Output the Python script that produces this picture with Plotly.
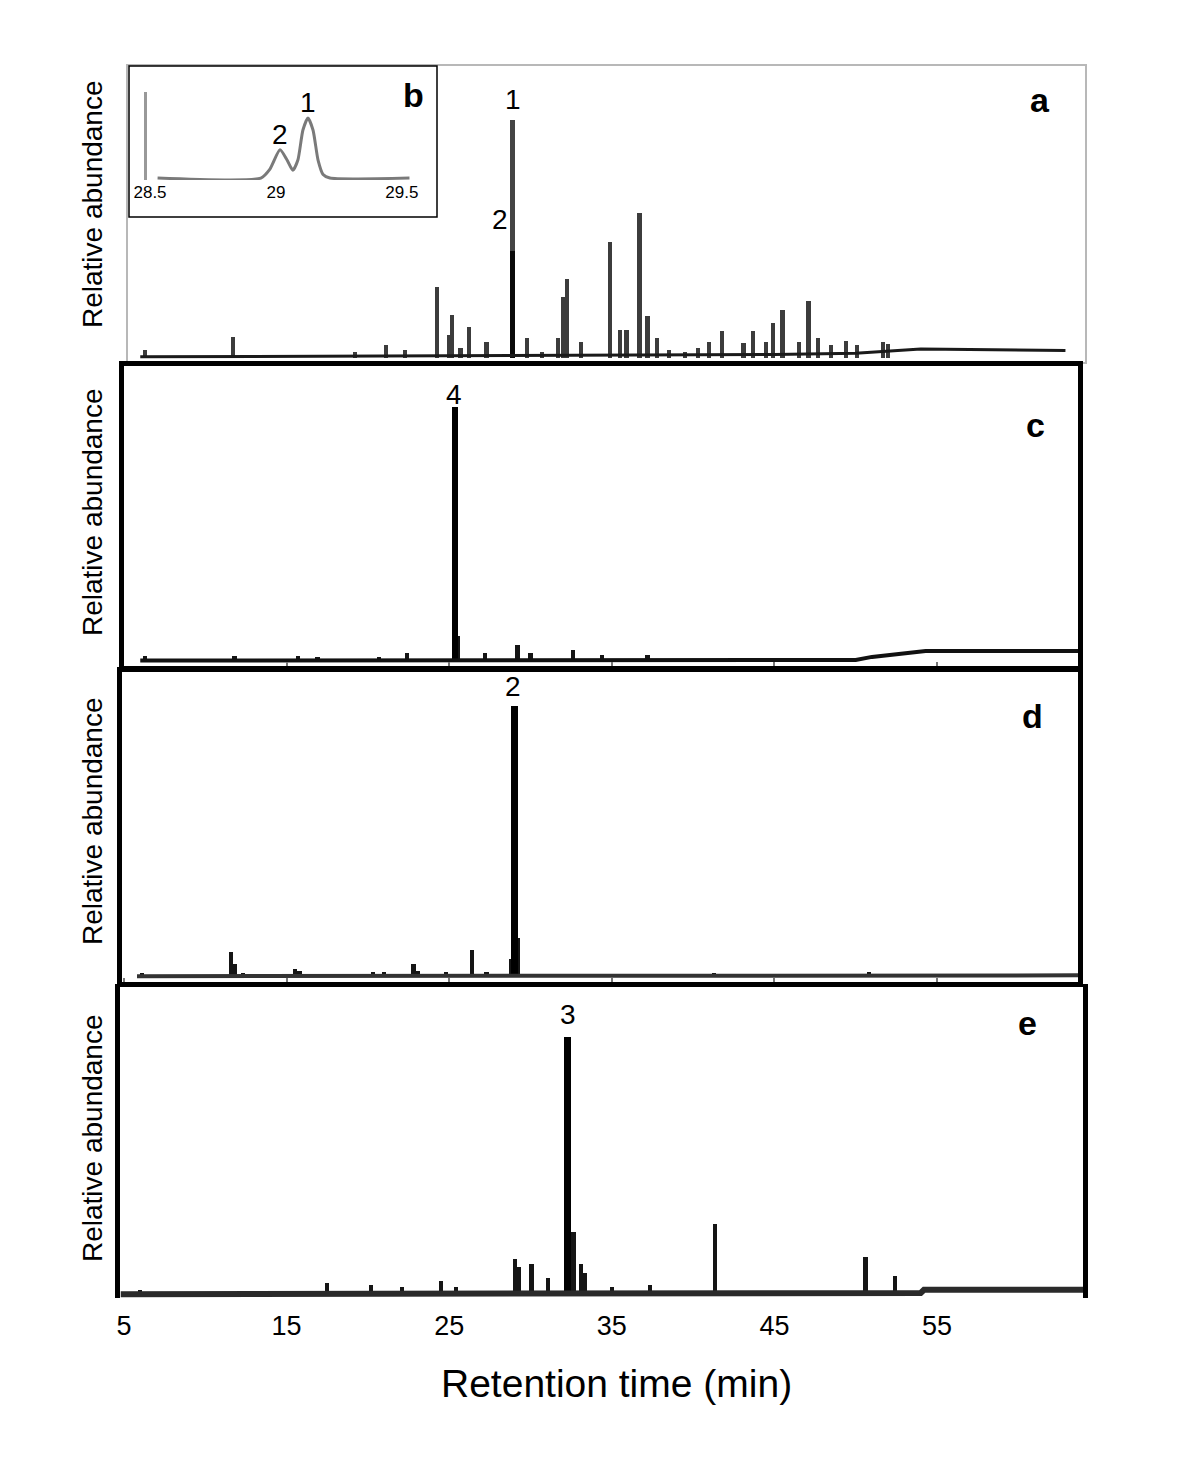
import plotly.graph_objects as go

W, H = 1200, 1467

# --- data: retention time (min) and height (% of the largest peak of each trace)
# a: total ion chromatogram
a_t = [6.3, 11.7, 19.2, 21.1, 22.3, 24.25, 25.0, 25.15, 25.7, 26.2, 27.3, 29.8, 30.7,
       31.7, 32.0, 32.25, 33.1, 34.9, 35.5, 35.9, 36.7, 37.2, 37.8, 38.5, 39.5, 40.3,
       41.0, 41.8, 43.1, 43.7, 44.5, 44.9, 45.5, 46.5, 47.1, 47.7, 48.5, 49.4, 50.1, 51.7, 52.0]
a_h = [3.4, 8.8, 2.5, 5.5, 3.4, 29.8, 9.7, 18.1, 4.2, 13.0, 6.7, 8.4, 2.5,
       8.4, 25.6, 33.2, 6.7, 48.7, 11.8, 11.8, 60.9, 17.6, 8.4, 3.4, 2.5, 4.2,
       6.7, 11.3, 6.3, 11.3, 6.7, 14.7, 20.2, 6.7, 23.9, 8.4, 5.5, 7.1, 5.5, 6.7, 5.9]
a_main_t = [28.9, 28.9]
a_main_h = [100, 45]
a_base_t = [6.0, 33.0, 45.0, 50.0, 52.0, 54.0, 62.9]
a_base_h = [0.5, 1.0, 1.5, 2.0, 3.0, 3.8, 3.2]

# c
c_t = [6.3, 11.8, 15.7, 16.9, 20.7, 22.4, 25.55, 27.2, 29.2, 30.0, 32.6, 34.4, 37.2]
c_h = [2.4, 2.4, 2.4, 2.0, 2.0, 3.5, 10.2, 3.5, 6.7, 3.5, 4.7, 2.7, 2.7]
c_main_t = [25.36]
c_main_h = [100]
c_base_t = [6.0, 50.0, 51.0, 53.0, 54.3, 63.7]
c_base_h = [0.6, 0.8, 2.0, 3.5, 4.3, 4.3]

# d
d_t = [6.1, 11.6, 11.8, 12.3, 15.5, 15.8, 20.3, 21.0, 22.8, 23.1, 24.8, 26.4, 27.3,
       28.8, 29.25, 41.3, 50.8]
d_h = [1.5, 9.2, 4.8, 1.5, 3.0, 2.2, 1.8, 1.8, 4.8, 2.2, 1.8, 10.0, 1.8,
       6.6, 14.4, 1.5, 1.8]
d_main_t = [29.0]
d_main_h = [100]
d_base_t = [5.8, 63.7]
d_base_h = [0.3, 0.6]

# e
e_t = [6.0, 17.5, 20.2, 22.1, 24.5, 25.4, 29.05, 29.3, 30.06, 31.07, 32.65, 33.1,
       33.35, 35.0, 37.35, 41.35, 50.6, 52.4]
e_h = [1.9, 4.7, 3.9, 3.1, 5.4, 3.1, 14.0, 10.9, 12.0, 6.6, 24.4, 12.0,
       8.5, 3.1, 3.9, 27.5, 14.7, 7.4]
e_main_t = [32.3]
e_main_h = [100]
e_base_t = [4.8, 54.0, 54.2, 64.0]
e_base_h = [0.3, 0.8, 2.0, 2.0]

# b: inset, expanded view 28.5-29.5 min
b_t = [28.53, 28.94, 28.976, 29.016, 29.044, 29.067, 29.087, 29.107, 29.127,
       29.147, 29.167, 29.187, 29.214, 29.53]
b_h = [0, 0, 15, 47, 30, 13, 30, 80, 100, 80, 30, 6, 0, 0]

x_ticks = [5, 15, 25, 35, 45, 55]
inset_ticks = [28.5, 29, 29.5]

FONT = "Liberation Sans, Arial, Helvetica, sans-serif"
OFF = 8  # page body margin of the html output


def px(x):
    return (x - OFF) / W


def py(y):
    return 1 - (y - OFF) / H


def xr(left, right):
    # common time scale: 5 min at x=124 px, 16.26 px per minute
    return [5 + (left - 124) / 16.26, 5 + (right - 124) / 16.26]


# panel: left, right, top, bottom (px), baseline px, px height of largest peak
panels = {
    "a": (128, 1085, 66, 362, 358, 238),
    "c": (124, 1078, 366, 666, 662, 255),
    "d": (122, 1078, 672, 982, 977, 271),
    "e": (120, 1083, 984, 1298, 1295, 258),
}
series = {
    "a": (a_t, a_h, a_main_t, a_main_h, a_base_t, a_base_h),
    "c": (c_t, c_h, c_main_t, c_main_h, c_base_t, c_base_h),
    "d": (d_t, d_h, d_main_t, d_main_h, d_base_t, d_base_h),
    "e": (e_t, e_h, e_main_t, e_main_h, e_base_t, e_base_h),
}
ytick_step = {"a": None, "c": 23.5, "d": 28.2, "e": 20.3}
base_style = {"a": ("#1a1a1a", 3), "c": ("#111", 4), "d": ("#333", 4), "e": ("#2a2a2a", 6)}

fig = go.Figure()
layout = {}
annotations = []

for i, key in enumerate(["a", "c", "d", "e"]):
    n = i + 1
    sfx = "" if n == 1 else str(n)
    left, right, top, bottom, base, hmax = panels[key]
    t, h, mt, mh, bt, bh = series[key]
    bar_col = "#3c3c3c" if key == "a" else "#151515"
    fig.add_trace(go.Bar(x=t, y=h, width=0.26, marker=dict(color=bar_col, line_width=0),
                         xaxis="x" + sfx, yaxis="y" + sfx, showlegend=False))
    if key == "a":
        fig.add_trace(go.Bar(x=mt[:1], y=mh[:1], width=0.3, marker=dict(color="#444", line_width=0),
                             xaxis="x", yaxis="y", showlegend=False))
        fig.add_trace(go.Bar(x=mt[1:], y=mh[1:], width=0.3, marker=dict(color="#0a0a0a", line_width=0),
                             xaxis="x", yaxis="y", showlegend=False))
    else:
        fig.add_trace(go.Bar(x=mt, y=mh, width=0.42, marker=dict(color="#000", line_width=0),
                             xaxis="x" + sfx, yaxis="y" + sfx, showlegend=False))
    bcol, bw = base_style[key]
    fig.add_trace(go.Scatter(x=bt, y=bh, mode="lines", line=dict(color=bcol, width=bw),
                             xaxis="x" + sfx, yaxis="y" + sfx, showlegend=False,
                             cliponaxis=False))

    lo = -(bottom - base) / hmax * 100
    hi = (base - top) / hmax * 100
    if key == "a":
        xline, yline, lw = "#b8b8b8", "#b8b8b8", 2
    elif key == "e":
        # no frame line along the bottom of e: its baseline closes the box
        xline, yline, lw = "rgba(0,0,0,0)", "black", 5
    else:
        xline, yline, lw = "black", "black", 5
    xa = dict(domain=[px(left), px(right)], range=xr(left, right), anchor="y" + sfx,
              showgrid=False, zeroline=False, showline=True, mirror=True,
              linecolor=xline, linewidth=lw,
              tickvals=x_ticks, showticklabels=(key == "e"),
              ticks="" if key in ("a", "e") else "inside", ticklen=4, tickwidth=2,
              tickcolor="#777",
              tickfont=dict(size=27, color="black", family=FONT), fixedrange=True,
              automargin=False)
    ya = dict(domain=[py(bottom), py(top)], range=[lo, hi], anchor="x" + sfx,
              showgrid=False, zeroline=False, showline=True, mirror="ticks",
              linecolor=yline, linewidth=lw,
              showticklabels=False, fixedrange=True, automargin=False)
    if ytick_step[key]:
        step = ytick_step[key]
        ya.update(ticks="inside", ticklen=6, tickwidth=2, tickcolor="white",
                  tickvals=[step * k for k in range(1, int(hi / step) + 1)])
    layout["xaxis" + sfx] = xa
    layout["yaxis" + sfx] = ya

# inset b
fig.add_trace(go.Scatter(x=b_t, y=b_h, mode="lines", line=dict(color="#7a7a7a", width=3,
                         shape="spline", smoothing=0.6),
                         xaxis="x5", yaxis="y5", showlegend=False))
layout["xaxis5"] = dict(domain=[px(147), px(412)], range=[28.488, 29.54], anchor="y5",
                        showgrid=False, zeroline=False, showline=False, ticks="",
                        tickvals=inset_ticks, ticktext=["28.5", "29", "29.5"],
                        tickfont=dict(size=17, color="black", family=FONT), fixedrange=True,
                        automargin=False)
layout["yaxis5"] = dict(domain=[py(180), py(92)], range=[-3.3, 143.3], anchor="x5",
                        showgrid=False, zeroline=False, showline=True, linecolor="#999",
                        linewidth=3, showticklabels=False, ticks="", fixedrange=True,
                        automargin=False)

# peak labels
peak_lbl = dict(showarrow=False, font=dict(size=28, color="black", family=FONT))
annotations += [
    dict(x=28.9, y=100, xref="x", yref="y", text="1", yanchor="bottom", yshift=3, **peak_lbl),
    dict(x=28.75, y=58, xref="x", yref="y", text="2", xanchor="right", yanchor="middle", **peak_lbl),
    dict(x=25.3, y=100, xref="x2", yref="y2", text="4", yanchor="bottom", yshift=-5, **peak_lbl),
    dict(x=28.95, y=100, xref="x3", yref="y3", text="2", yanchor="bottom", yshift=2, **peak_lbl),
    dict(x=32.3, y=100, xref="x4", yref="y4", text="3", yanchor="bottom", yshift=5, **peak_lbl),
    dict(x=29.016, y=47, xref="x5", yref="y5", text="2", yanchor="bottom", yshift=-2, **peak_lbl),
    dict(x=29.127, y=100, xref="x5", yref="y5", text="1", yanchor="bottom", yshift=-2, **peak_lbl),
]

# panel letters
letter = dict(showarrow=False, xref="paper", yref="paper", xanchor="center", yanchor="middle",
              font=dict(size=34, color="black", family=FONT))
for txt, x, y in [("a", 1040, 100), ("b", 413, 95), ("c", 1035, 425),
                  ("d", 1032, 716), ("e", 1027, 1023)]:
    annotations.append(dict(x=px(x), y=py(y), text="<b>%s</b>" % txt, **letter))

# y titles
for y in [204, 512, 821, 1138]:
    annotations.append(dict(x=px(92), y=py(y), xref="paper", yref="paper", text="Relative abundance",
                            textangle=-90, showarrow=False, xanchor="center", yanchor="middle",
                            font=dict(size=28, color="black", family=FONT)))

annotations.append(dict(x=px(616), y=py(1383), xref="paper", yref="paper",
                        text="Retention time (min)", showarrow=False,
                        xanchor="center", yanchor="middle",
                        font=dict(size=39, color="black", family=FONT)))

fig.update_layout(
    width=W, height=H,
    margin=dict(l=0, r=0, t=0, b=0, pad=0, autoexpand=False),
    paper_bgcolor="white", plot_bgcolor="rgba(0,0,0,0)",
    barmode="overlay", bargap=0,
    annotations=annotations,
    shapes=[dict(type="rect", xref="paper", yref="paper", x0=px(129), x1=px(437),
                 y0=py(217), y1=py(66), line=dict(color="black", width=1.5), layer="above")],
    font=dict(family=FONT),
    **layout,
)

fig.write_html("out.html")
